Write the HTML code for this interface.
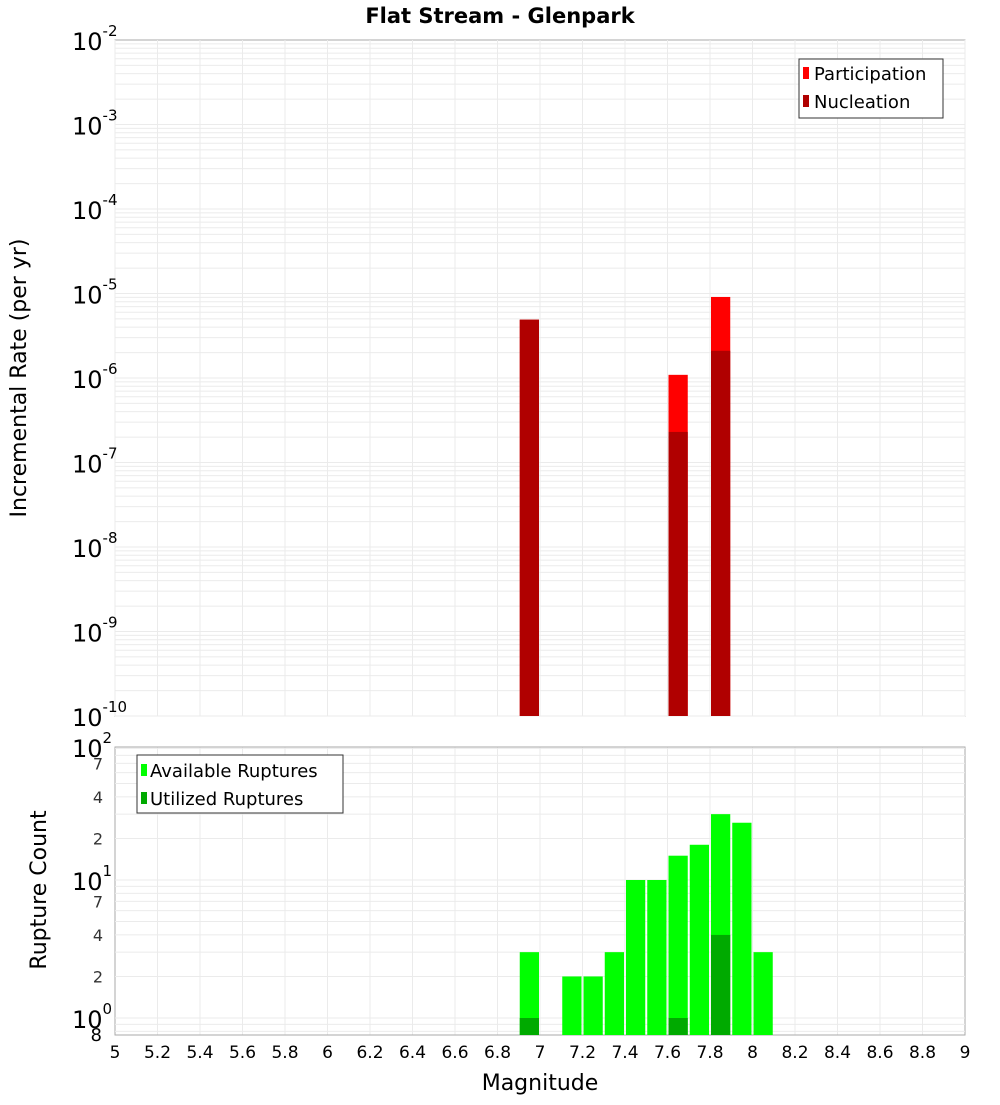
<!DOCTYPE html>
<html><head><meta charset="utf-8"><style>
body{margin:0;background:#fff;font-family:"Liberation Sans","DejaVu Sans",sans-serif}
svg text{font-family:"DejaVu Sans","Liberation Sans",sans-serif}
</style></head><body>
<svg id="c" width="1000" height="1100" xmlns="http://www.w3.org/2000/svg">
<text x="500" y="23" text-anchor="middle" font-size="21" font-weight="bold">Flat Stream - Glenpark</text>
<text transform="translate(26,378) rotate(-90)" text-anchor="middle" font-size="22">Incremental Rate (per yr)</text>
<text transform="translate(46,890) rotate(-90)" text-anchor="middle" font-size="22">Rupture Count</text>
<text x="540" y="1090" text-anchor="middle" font-size="22">Magnitude</text>
<g id="g"></g>
<g>
<rect x="799" y="59" width="144" height="59" fill="#fff" stroke="#333"/>
<rect x="803" y="67" width="6" height="12" fill="#ff0000"/>
<text x="814" y="80" font-size="18">Participation</text>
<rect x="803" y="95" width="6" height="12" fill="#b00000"/>
<text x="814" y="108" font-size="18">Nucleation</text>
</g>
<g>
<rect x="137" y="755" width="206" height="58" fill="#fff" stroke="#333"/>
<rect x="141" y="764" width="6" height="12" fill="#00ff00"/>
<text x="150" y="777" font-size="18">Available Ruptures</text>
<rect x="141" y="792" width="6" height="12" fill="#00aa00"/>
<text x="150" y="805" font-size="18">Utilized Ruptures</text>
</g>
</svg>
<script>
const mags=[6.95,7.65,7.85];
const participation=[4.9e-6,1.09e-6,9.1e-6];
const nucleation=[4.9e-6,2.3e-7,2.1e-6];
const cMags=[6.95,7.15,7.25,7.35,7.45,7.55,7.65,7.75,7.85,7.95,8.05];
const available=[3,2,2,3,10,10,15,18,30,26,3];
const uMags=[6.95,7.65,7.85];
const utilized=[1,1,4];
const xTicks=[5,5.2,5.4,5.6,5.8,6,6.2,6.4,6.6,6.8,7,7.2,7.4,7.6,7.8,8,8.2,8.4,8.6,8.8,9];
const topExps=[-2,-3,-4,-5,-6,-7,-8,-9,-10];
const botMinor=[2,4,7,20,40,70];

const NS="http://www.w3.org/2000/svg",G=document.getElementById('g');
function mk(t,a,txt){const e=document.createElementNS(NS,t);for(const k in a)e.setAttribute(k,a[k]);if(txt!==undefined)e.textContent=txt;G.appendChild(e);return e;}
const X0=115,X1=965;
const x=m=>X0+(m-5)/4*(X1-X0);
const T0=40,T1=716;
const yT=v=>T0+(-2-Math.log10(v))/8*(T1-T0);
const B0=747,B1=1035;
const yB=v=>880-(Math.log10(v)-1)*138;
// top plot
mk('rect',{x:X0,y:T0,width:X1-X0,height:T1-T0,fill:'#fff',stroke:'#aaa'});
for(let d=-10;d<-2;d++)for(let k=1;k<10;k++){const yy=yT(k*Math.pow(10,d));mk('line',{x1:X0,x2:X1,y1:yy,y2:yy,stroke:'#ebebeb'});}
xTicks.forEach(t=>{mk('line',{x1:x(t),x2:x(t),y1:T0,y2:T1,stroke:'#ebebeb'});mk('line',{x1:x(t),x2:x(t),y1:B0,y2:B1,stroke:'#ebebeb'});});
topExps.forEach(e=>{const yy=yT(Math.pow(10,e));const t=mk('text',{x:72,y:yy+10,'font-size':24});t.innerHTML='10<tspan dy="-14" font-size="15">'+e+'</tspan>';});
const bw=x(5.1)-x(5)-2;
mags.forEach((m,i)=>{
 let r=mk('rect',{x:x(m)-bw/2,y:yT(participation[i]),width:bw,height:T1-yT(participation[i]),fill:'#ff0000'});
 
 r=mk('rect',{x:x(m)-bw/2,y:yT(nucleation[i]),width:bw,height:T1-yT(nucleation[i]),fill:'#b00000'});
 
});
// bottom plot
mk('rect',{x:X0,y:B0,width:X1-X0,height:B1-B0,fill:'none',stroke:'#aaa'});
for(let d=-1;d<2;d++)for(let k=1;k<10;k++){const yy=yB(k*Math.pow(10,d));if(yy>B0&&yy<B1)mk('line',{x1:X0,x2:X1,y1:yy,y2:yy,stroke:'#ebebeb'});}
[[100,'2'],[10,'1'],[1,'0']].forEach(([v,e])=>{const yy=Math.min(yB(v),1025);const t=mk('text',{x:72,y:(v==100?B0:yy)+10,'font-size':24});t.innerHTML='10<tspan dy="-14" font-size="15">'+e+'</tspan>';});
botMinor.forEach(v=>{const t=mk('text',{x:103,y:yB(v)+6,'font-size':16,'text-anchor':'end',fill:'#333'},String(v).charAt(0));});
mk('text',{x:102,y:1041,'font-size':18,'text-anchor':'end'},'8');
cMags.forEach((m,i)=>{const r=mk('rect',{x:x(m)-bw/2,y:yB(available[i]),width:bw,height:B1-yB(available[i]),fill:'#00ff00'});});
uMags.forEach((m,i)=>{const r=mk('rect',{x:x(m)-bw/2,y:yB(utilized[i]),width:bw,height:B1-yB(utilized[i]),fill:'#00aa00'});});
xTicks.forEach(t=>{const e=mk('text',{x:x(t),y:1058,'font-size':17,'text-anchor':'middle'},String(t));});
</script>
</body></html>
